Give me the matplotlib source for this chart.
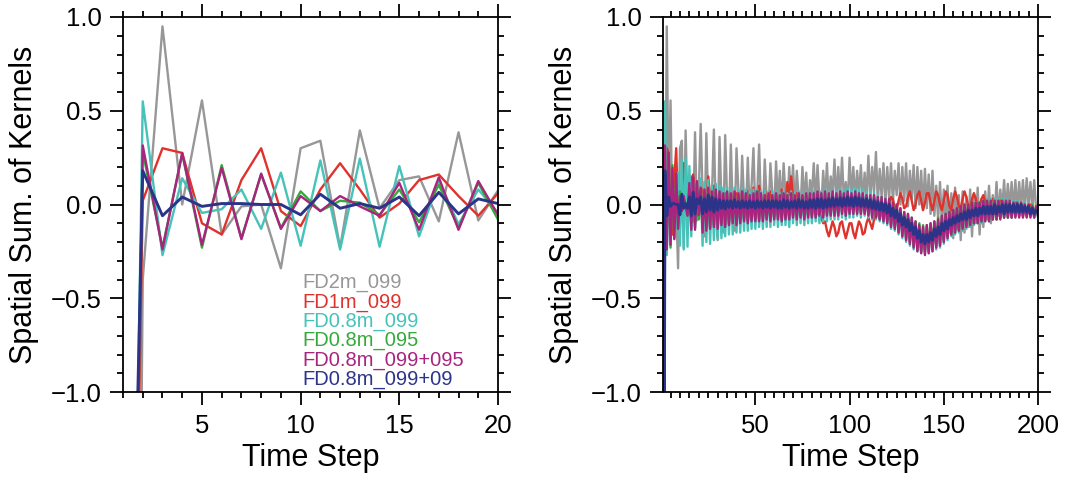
import numpy as np
import matplotlib
matplotlib.use("Agg")
import matplotlib.pyplot as plt
from matplotlib.ticker import MultipleLocator

plt.rcParams['font.family'] = ['Liberation Sans', 'DejaVu Sans']

steps = list(range(1, 201))

fd2m_099 = [
    -12.0, -0.40, 0.95, 0.00, 0.555, -0.16, -0.01, 0.00, -0.34, 0.30,
    0.34, -0.23, 0.395, -0.02, 0.13, 0.15, -0.09, 0.385, -0.085, 0.075,
    0.43, 0.05, -0.17, 0.38, -0.02, -0.12, 0.06, 0.40, -0.05, -0.19,
    0.36, 0.02, -0.15, 0.37, 0.04, -0.10, 0.32, -0.03, -0.14, 0.30,
    0.08, -0.08, 0.26, 0.02, -0.06, 0.25, -0.04, 0.10, 0.30, -0.05,
    0.05, 0.32, -0.02, -0.06, 0.24, 0.03, -0.05, 0.22, 0.06, -0.04,
    0.23, 0.00, 0.18, -0.03, 0.22, 0.05, -0.02, 0.20, 0.02, 0.21,
    -0.03, 0.18, 0.04, -0.02, 0.20, 0.00, 0.17, -0.04, 0.13, 0.05,
    0.22, 0.00, 0.21, 0.03, -0.02, 0.18, 0.02, 0.22, 0.00, 0.15,
    0.05, 0.24, 0.01, 0.20, 0.03, 0.25, 0.02, 0.12, 0.00, 0.25,
    0.04, 0.20, 0.02, 0.18, 0.05, 0.21, 0.01, 0.17, 0.03, 0.26,
    0.02, 0.20, 0.06, 0.28, 0.01, 0.19, 0.04, 0.22, 0.00, 0.20,
    0.03, 0.22, 0.01, 0.18, 0.05, 0.22, 0.00, 0.20, 0.02, 0.22,
    -0.01, 0.18, 0.03, 0.21, -0.02, 0.20, 0.00, 0.18, -0.03, 0.19,
    -0.02, 0.16, -0.05, 0.18, -0.06, 0.10, -0.08, 0.12, -0.10, 0.08,
    -0.12, 0.10, -0.15, 0.06, -0.18, 0.09, -0.13, 0.05, -0.19, 0.07,
    -0.15, 0.04, -0.12, 0.08, -0.17, 0.06, -0.10, 0.09, -0.16, 0.03,
    -0.12, 0.07, -0.08, 0.10, -0.10, 0.05, -0.05, 0.12, -0.06, 0.08,
    -0.03, 0.13, -0.04, 0.11, -0.02, 0.12, -0.03, 0.13, -0.04, 0.12,
    -0.02, 0.13, -0.03, 0.14, -0.01, 0.12, -0.02, 0.13, -0.03, 0.00,
]

fd1m_099 = [
    -6.0, 0.02, 0.30, 0.275, -0.10, -0.16, 0.13, 0.30, -0.035, -0.115,
    0.08, 0.22, 0.08, -0.07, 0.005, 0.13, 0.16, 0.045, -0.06, 0.06,
    -0.02, 0.08, 0.02, -0.03, 0.15, 0.05, -0.02, 0.10, 0.00, -0.04,
    0.08, 0.02, -0.05, 0.06, 0.00, -0.03, 0.07, 0.01, -0.04, 0.06,
    0.02, -0.03, 0.08, 0.03, -0.02, 0.07, 0.00, -0.03, 0.09, 0.04,
    -0.01, 0.10, 0.03, -0.02, 0.08, 0.02, -0.03, 0.07, 0.01, -0.02,
    0.06, 0.00, -0.03, 0.08, 0.02, -0.01, 0.12, 0.05, 0.15, 0.04,
    -0.01, 0.06, 0.00, -0.03, 0.04, -0.02, 0.02, -0.04, 0.00, -0.05,
    -0.02, -0.03, -0.05, -0.04, -0.07, -0.10, -0.09, -0.14, -0.17, -0.13,
    -0.09, -0.12, -0.17, -0.15, -0.10, -0.09, -0.14, -0.18, -0.14, -0.10,
    -0.10, -0.15, -0.18, -0.13, -0.09, -0.11, -0.16, -0.15, -0.10, -0.07,
    -0.10, -0.13, -0.08, -0.04, -0.05, -0.08, -0.04, 0.00, -0.02, -0.05,
    -0.02, 0.04, 0.03, -0.02, -0.03, 0.02, 0.06, 0.03, -0.02, -0.01,
    0.04, 0.07, 0.02, -0.03, 0.00, 0.05, 0.07, 0.02, -0.03, 0.01,
    0.06, 0.06, 0.01, -0.03, 0.02, 0.07, 0.05, 0.00, -0.03, 0.02,
    0.07, 0.05, -0.01, -0.03, 0.03, 0.07, 0.04, -0.01, -0.02, 0.03,
    0.07, 0.04, -0.01, -0.02, 0.03, 0.06, 0.03, -0.02, -0.01, 0.03,
    0.05, 0.01, -0.03, -0.01, 0.02, 0.03, 0.00, -0.03, -0.01, 0.02,
    0.01, -0.03, -0.02, 0.01, 0.00, -0.03, -0.02, 0.01, -0.01, -0.04,
    -0.02, 0.00, -0.02, -0.04, -0.01, 0.00, -0.03, -0.05, -0.02, -0.04,
]

fd08m_099 = [
    -6.0, 0.55, -0.27, 0.14, -0.045, -0.025, 0.08, -0.13, 0.17, -0.22,
    0.235, -0.24, 0.245, -0.225, 0.205, -0.17, 0.125, -0.105, 0.08, -0.045,
    0.14, -0.22, 0.12, -0.20, 0.13, -0.21, 0.10, -0.19, 0.11, -0.18,
    0.10, -0.18, 0.09, -0.17, 0.09, -0.16, 0.08, -0.16, 0.09, -0.15,
    0.08, -0.15, 0.09, -0.14, 0.08, -0.14, 0.07, -0.13, 0.08, -0.13,
    0.08, -0.12, 0.07, -0.13, 0.08, -0.12, 0.07, -0.12, 0.07, -0.11,
    0.07, -0.12, 0.06, -0.11, 0.07, -0.11, 0.06, -0.12, 0.07, -0.10,
    0.06, -0.11, 0.07, -0.10, 0.06, -0.11, 0.07, -0.10, 0.06, -0.10,
    0.07, -0.09, 0.06, -0.10, 0.07, -0.09, 0.08, -0.09, 0.07, -0.08,
    0.08, -0.08, 0.07, -0.08, 0.08, -0.07, 0.08, -0.08, 0.09, -0.07,
    0.08, -0.07, 0.09, -0.06, 0.08, -0.07, 0.08, -0.06, 0.07, -0.07,
    0.07, -0.08, 0.06, -0.08, 0.05, -0.09, 0.04, -0.10, 0.03, -0.11,
    0.02, -0.13, 0.00, -0.14, -0.01, -0.16, -0.03, -0.18, -0.05, -0.20,
    -0.06, -0.22, -0.08, -0.24, -0.10, -0.25, -0.12, -0.26, -0.13, -0.26,
    -0.12, -0.26, -0.11, -0.25, -0.10, -0.24, -0.09, -0.23, -0.07, -0.21,
    -0.06, -0.19, -0.05, -0.17, -0.04, -0.16, -0.03, -0.15, -0.02, -0.14,
    -0.01, -0.13, 0.00, -0.12, 0.00, -0.11, 0.01, -0.10, 0.01, -0.10,
    0.02, -0.09, 0.02, -0.09, 0.03, -0.08, 0.03, -0.08, 0.03, -0.07,
    0.03, -0.07, 0.03, -0.07, 0.02, -0.07, 0.02, -0.06, 0.02, -0.06,
    0.01, -0.06, 0.01, -0.06, 0.00, -0.06, 0.00, -0.07, -0.01, -0.07,
]

fd08m_095 = [
    -6.0, 0.28, -0.23, 0.27, -0.23, 0.21, -0.18, 0.16, -0.125, 0.07,
    -0.035, 0.02, 0.01, -0.055, 0.08, -0.095, 0.105, -0.125, 0.115, -0.08,
    0.08, -0.13, 0.07, -0.12, 0.08, -0.12, 0.06, -0.11, 0.07, -0.12,
    0.06, -0.10, 0.05, -0.11, 0.06, -0.10, 0.05, -0.09, 0.06, -0.10,
    0.05, -0.09, 0.06, -0.08, 0.05, -0.09, 0.04, -0.08, 0.05, -0.08,
    0.06, -0.08, 0.05, -0.08, 0.04, -0.07, 0.05, -0.08, 0.04, -0.07,
    0.05, -0.07, 0.04, -0.08, 0.05, -0.07, 0.04, -0.07, 0.05, -0.06,
    0.04, -0.07, 0.05, -0.06, 0.04, -0.07, 0.05, -0.06, 0.05, -0.06,
    0.05, -0.06, 0.06, -0.05, 0.05, -0.06, 0.06, -0.05, 0.05, -0.05,
    0.06, -0.05, 0.05, -0.05, 0.06, -0.04, 0.05, -0.05, 0.06, -0.04,
    0.05, -0.04, 0.06, -0.04, 0.05, -0.04, 0.05, -0.04, 0.04, -0.05,
    0.04, -0.06, 0.04, -0.06, 0.03, -0.07, 0.03, -0.08, 0.02, -0.09,
    0.02, -0.11, 0.01, -0.12, 0.00, -0.14, -0.02, -0.16, -0.04, -0.18,
    -0.05, -0.20, -0.07, -0.22, -0.09, -0.24, -0.10, -0.25, -0.11, -0.25,
    -0.11, -0.25, -0.10, -0.24, -0.09, -0.22, -0.07, -0.21, -0.06, -0.19,
    -0.05, -0.17, -0.04, -0.16, -0.03, -0.15, -0.02, -0.14, -0.01, -0.12,
    0.00, -0.11, 0.00, -0.11, 0.01, -0.10, 0.01, -0.09, 0.01, -0.09,
    0.02, -0.08, 0.02, -0.08, 0.02, -0.08, 0.02, -0.08, 0.02, -0.07,
    0.02, -0.07, 0.02, -0.07, 0.01, -0.07, 0.01, -0.06, 0.01, -0.06,
    0.01, -0.06, 0.00, -0.06, 0.00, -0.06, 0.00, -0.06, -0.01, -0.06,
]

fd08m_099_095 = [
    -6.0, 0.315, -0.24, 0.275, -0.215, 0.195, -0.185, 0.165, -0.13, 0.045,
    -0.035, 0.045, -0.01, -0.06, 0.115, -0.135, 0.145, -0.135, 0.125, -0.055,
    0.09, -0.15, 0.08, -0.14, 0.09, -0.13, 0.07, -0.12, 0.08, -0.13,
    0.07, -0.11, 0.06, -0.12, 0.07, -0.11, 0.06, -0.10, 0.07, -0.11,
    0.06, -0.10, 0.07, -0.09, 0.06, -0.10, 0.05, -0.09, 0.06, -0.09,
    0.07, -0.09, 0.06, -0.09, 0.05, -0.08, 0.06, -0.09, 0.05, -0.08,
    0.06, -0.08, 0.05, -0.09, 0.06, -0.08, 0.05, -0.08, 0.06, -0.07,
    0.05, -0.08, 0.06, -0.07, 0.05, -0.08, 0.06, -0.07, 0.06, -0.07,
    0.06, -0.07, 0.07, -0.06, 0.06, -0.07, 0.07, -0.06, 0.06, -0.06,
    0.07, -0.06, 0.06, -0.06, 0.07, -0.05, 0.06, -0.06, 0.07, -0.05,
    0.06, -0.05, 0.07, -0.05, 0.06, -0.05, 0.06, -0.05, 0.05, -0.06,
    0.05, -0.07, 0.05, -0.07, 0.04, -0.08, 0.04, -0.09, 0.03, -0.10,
    0.03, -0.12, 0.01, -0.13, 0.00, -0.15, -0.02, -0.17, -0.04, -0.19,
    -0.05, -0.21, -0.07, -0.23, -0.09, -0.25, -0.11, -0.26, -0.12, -0.27,
    -0.11, -0.26, -0.10, -0.25, -0.09, -0.23, -0.08, -0.22, -0.06, -0.20,
    -0.05, -0.18, -0.04, -0.16, -0.03, -0.15, -0.02, -0.14, -0.01, -0.13,
    0.00, -0.12, 0.00, -0.11, 0.01, -0.10, 0.01, -0.10, 0.01, -0.09,
    0.02, -0.09, 0.02, -0.09, 0.02, -0.08, 0.02, -0.08, 0.02, -0.08,
    0.02, -0.07, 0.02, -0.07, 0.02, -0.07, 0.01, -0.07, 0.01, -0.07,
    0.01, -0.07, 0.00, -0.07, 0.00, -0.07, -0.01, -0.07, -0.01, -0.06,
]

fd08m_099_09 = [
    -4.6, 0.18, -0.06, 0.04, -0.01, 0.005, 0.005, 0.00, 0.00, -0.055,
    0.055, -0.02, 0.005, -0.02, 0.04, -0.06, 0.065, -0.05, 0.03, 0.005,
    0.04, -0.05, 0.03, -0.04, 0.05, -0.03, 0.04, -0.04, 0.03, -0.03,
    0.025, -0.02, 0.02, -0.025, 0.02, -0.015, 0.02, -0.02, 0.025, -0.015,
    0.015, -0.02, 0.02, -0.015, 0.015, -0.02, 0.02, -0.015, 0.015, -0.02,
    0.02, -0.015, 0.015, -0.02, 0.02, -0.015, 0.02, -0.02, 0.02, -0.015,
    0.02, -0.02, 0.015, -0.02, 0.025, -0.015, 0.02, -0.02, 0.015, -0.015,
    0.02, -0.02, 0.025, -0.015, 0.02, -0.02, 0.015, -0.02, 0.025, -0.015,
    0.025, -0.02, 0.03, -0.015, 0.03, -0.02, 0.025, -0.015, 0.03, -0.01,
    0.035, -0.01, 0.03, -0.005, 0.035, -0.01, 0.035, -0.005, 0.04, -0.005,
    0.035, -0.01, 0.04, -0.005, 0.035, -0.01, 0.03, -0.01, 0.03, -0.015,
    0.025, -0.02, 0.02, -0.025, 0.015, -0.03, 0.01, -0.035, 0.005, -0.045,
    0.00, -0.06, -0.02, -0.07, -0.03, -0.09, -0.05, -0.11, -0.07, -0.12,
    -0.08, -0.14, -0.10, -0.16, -0.12, -0.18, -0.14, -0.20, -0.16, -0.21,
    -0.16, -0.20, -0.15, -0.19, -0.13, -0.17, -0.12, -0.16, -0.10, -0.14,
    -0.09, -0.13, -0.08, -0.11, -0.07, -0.10, -0.06, -0.09, -0.05, -0.08,
    -0.04, -0.08, -0.03, -0.07, -0.03, -0.06, -0.02, -0.06, -0.02, -0.05,
    -0.01, -0.05, -0.01, -0.05, -0.01, -0.05, 0.00, -0.05, -0.01, -0.04,
    0.00, -0.05, 0.00, -0.04, 0.00, -0.04, 0.00, -0.04, 0.00, -0.04,
    0.00, -0.04, -0.01, -0.04, -0.01, -0.05, -0.02, -0.05, -0.03, -0.04,
]

labels = ["FD2m_099", "FD1m_099", "FD0.8m_099", "FD0.8m_095",
          "FD0.8m_099+095", "FD0.8m_099+09"]
colors = ["#979797", "#e0322c", "#45c3b9", "#35a93a", "#a8247f", "#2b3489"]
series = [fd2m_099, fd1m_099, fd08m_099, fd08m_095, fd08m_099_095, fd08m_099_09]
widths = [1.7, 1.7, 1.7, 1.7, 1.7, 2.1]

fig = plt.figure(figsize=(10.69, 4.83), dpi=100)
ax1 = fig.add_axes([123/1069, 91/483, 375/1069, 375/483])
ax2 = fig.add_axes([663/1069, 91/483, 375/1069, 375/483])

n_left = 20
for s, c, w in zip(series, colors, widths):
    ax1.plot(steps[:n_left], s[:n_left], color=c, lw=w)
    ax2.plot(steps, s, color=c, lw=w)

for ax in (ax1, ax2):
    ax.set_ylim(-1.0, 1.0)
    ax.yaxis.set_major_locator(MultipleLocator(0.5))
    ax.yaxis.set_minor_locator(MultipleLocator(0.1))
    ax.set_ylabel("Spatial Sum. of Kernels", fontsize=22, labelpad=8)
    ax.set_xlabel("Time Step", fontsize=22, labelpad=4)
    ax.tick_params(which='both', direction='out', top=True, right=True,
                   width=1.3, labelsize=18.5)
    ax.tick_params(which='major', length=9.5, pad=6)
    ax.tick_params(which='minor', length=4.5)
    for sp in ax.spines.values():
        sp.set_linewidth(1.3)

ax1.set_xlim(1, 20)
ax1.xaxis.set_major_locator(MultipleLocator(5))
ax1.xaxis.set_minor_locator(MultipleLocator(1))

ax2.set_xlim(1, 200)
ax2.xaxis.set_major_locator(MultipleLocator(50))
ax2.xaxis.set_minor_locator(MultipleLocator(5))

for i, (lab, c) in enumerate(zip(labels, colors)):
    ax1.text(0.477, 0.277 - i * 0.0515, lab, color=c, fontsize=14.5,
             transform=ax1.transAxes, ha='left', va='baseline')

fig.savefig("out.png", dpi=100)
